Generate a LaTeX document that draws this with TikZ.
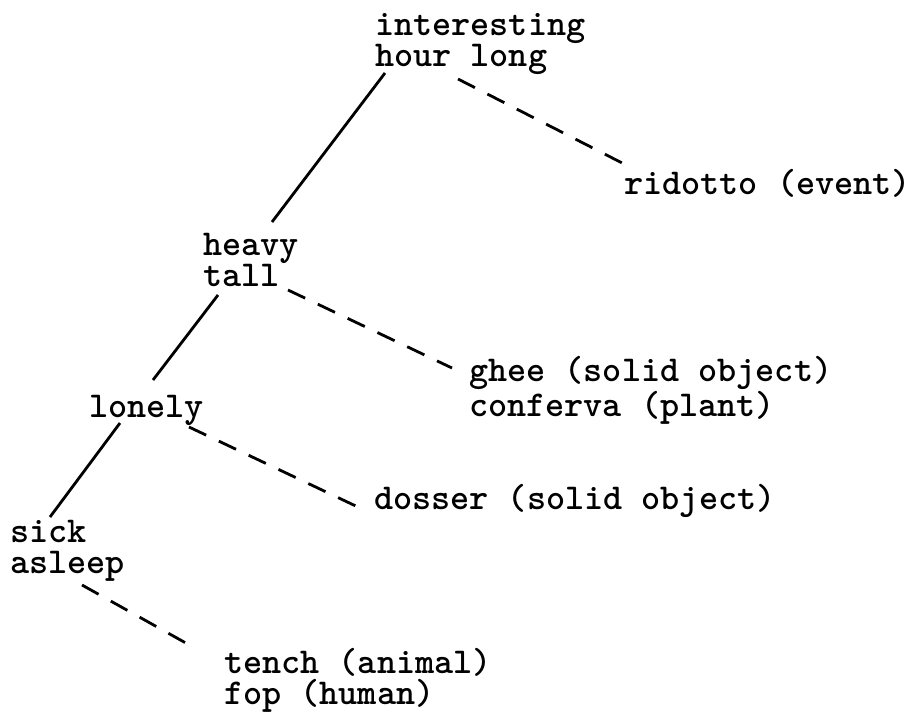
\documentclass[tikz,border=0pt]{standalone}
\tikzset{
  word/.style={anchor=base west, inner sep=0pt, align=left,
    font=\ttfamily\bfseries\fontsize{36.4}{31}\selectfont},
  sublink/.style={line width=2.8pt},
  simlink/.style={line width=2.8pt, dash pattern=on 19pt off 14pt}
}
\begin{document}
\begin{tikzpicture}[x=1pt, y=-1pt]

        % Fix the page to the size of the picture
        \useasboundingbox (0,0) rectangle (914,713);

        % Place the word groups of the tree (base = last line)
        \node[word] (Int) at (375,66) {interesting\\hour long};
        \node[word] (Rid) at (624,194) {ridotto (event)};
        \node[word] (Hea) at (203,286) {heavy\\tall};
        \node[word] (Ghe) at (469,416) {ghee (solid object)\\conferva (plant)};
        \node[word] (Lon) at (89,417) {lonely};
        \node[word] (Dos) at (374,509) {dosser (solid object)};
        \node[word] (Sic) at (10,573) {sick\\asleep};
        \node[word] (Ten) at (224,704) {tench (animal)\\fop (human)};

        % Solid links down the spine of the tree
        \draw[sublink] ([shift={(10,7)}]Int.base west) -- ([shift={(69,-64)}]Hea.base west);
        \draw[sublink] ([shift={(15,9)}]Hea.base west) -- ([shift={(64,-37)}]Lon.base west);
        \draw[sublink] ([shift={(31,6)}]Lon.base west) -- ([shift={(40,-56)}]Sic.base west);

        % Dashed links out to the nouns
        \draw[simlink] ([shift={(83,13)}]Int.base west) -- ([shift={(4,-28)}]Rid.base west);
        \draw[simlink] ([shift={(85,4)}]Hea.base west) -- ([shift={(-17,-48)}]Ghe.base west);
        \draw[simlink] ([shift={(100,10)}]Lon.base west) -- ([shift={(-14,-1)}]Dos.base west);
        \draw[simlink] ([shift={(72,12)}]Sic.base west) -- ([shift={(-31,-57)}]Ten.base west);

\end{tikzpicture}
\end{document}
